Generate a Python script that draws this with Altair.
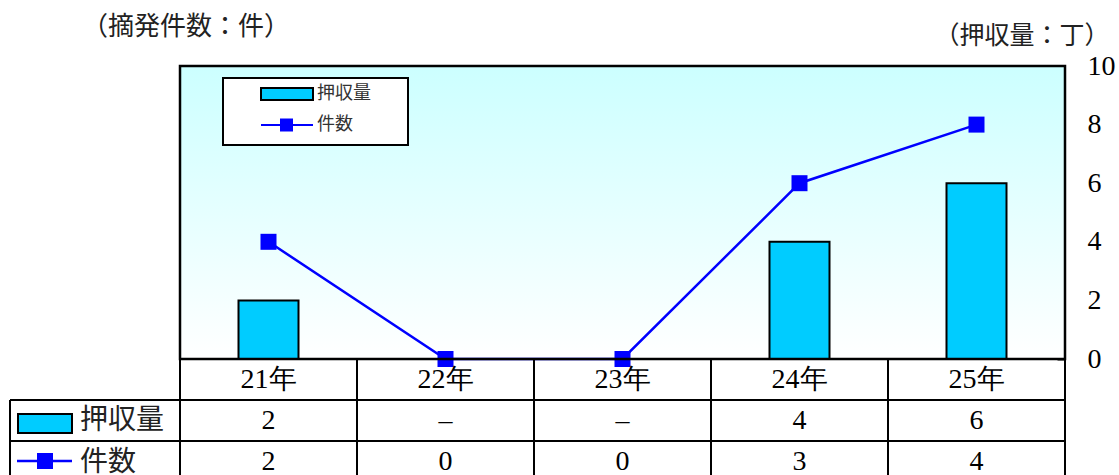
import altair as alt
import pandas as pd

# ---- data ----
categories = ["21年", "22年", "23年", "24年", "25年"]
seizures = [2, 0, 0, 4, 6]      # 押収量（丁） – right axis, bars
cases = [2, 0, 0, 3, 4]         # 摘発件数（件） – left axis, line
left_ticks = [0, 2, 4]
right_ticks = [0, 2, 4, 6, 8, 10]
left_title = "（摘発件数：件）"
right_title = "（押収量：丁）"
series_names = ["押収量", "件数"]

df = pd.DataFrame({
    "cat": categories,
    "seizure": seizures,
    "cases": cases,
    "seizure_label": [str(v) if v else "–" for v in seizures],
    "cases_label": [str(v) for v in cases],
})

SERIF = "serif"
SANS = "Noto Sans CJK JP"
BAR = "#00ccff"
LINE = "#0000ff"
W, H = 885, 293

xscale = alt.Scale(type="band", paddingInner=0, paddingOuter=0)


def xenc(**kw):
    return alt.X("cat:N", sort=categories, scale=xscale, axis=None, **kw)


base = alt.Chart(df)
one = alt.Chart(pd.DataFrame({"k": [0]}))

# background gradient
bg = one.mark_rect(
    fill=alt.LinearGradient(
        gradient="linear",
        stops=[alt.GradientStop(color="#ccffff", offset=0),
               alt.GradientStop(color="#ffffff", offset=1)],
        x1=0, x2=0, y1=0, y2=1,
    )
).encode(x=alt.value(0), x2=alt.value(W), y=alt.value(0), y2=alt.value(H))

bars = base.mark_bar(width=60, color=BAR, stroke="black", strokeWidth=2).encode(
    x=xenc(),
    y=alt.Y(
        "seizure:Q",
        scale=alt.Scale(domain=[0, 10], nice=False),
        axis=alt.Axis(
            orient="right", values=right_ticks, title=None, domain=False, grid=False,
            tickSize=8, tickWidth=2, tickColor="black", offset=-8, labelPadding=22,
            labelFont=SERIF, labelFontSize=28, labelColor="black",
            labelAlign="left", labelBaseline="middle", labelOverlap=False,
        ),
    ),
)

yleft = alt.Scale(domain=[0, 5], nice=False)
line = base.mark_line(color=LINE, strokeWidth=2.5).encode(
    x=xenc(),
    y=alt.Y(
        "cases:Q",
        scale=yleft,
        axis=alt.Axis(
            orient="left", values=left_ticks, title=None, domain=False, grid=False,
            tickSize=8, tickWidth=2, tickColor="black", offset=-8, labelPadding=22,
            labelFont=SERIF, labelFontSize=28, labelColor="black",
            labelAlign="right", labelBaseline="middle", labelOverlap=False,
        ),
    ),
)
pts = base.mark_point(shape="square", size=256, filled=True, color=LINE, opacity=1).encode(
    x=xenc(), y=alt.Y("cases:Q", scale=yleft, axis=None)
)
series = alt.layer(line, pts)

# plot frame
frame = one.mark_rect(fillOpacity=0, stroke="black", strokeWidth=2.5).encode(
    x=alt.value(0), x2=alt.value(W), y=alt.value(0), y2=alt.value(H)
)

# ---- inner legend ----
leg_box = one.mark_rect(fill="white", stroke="black", strokeWidth=2).encode(
    x=alt.value(43), x2=alt.value(228), y=alt.value(12), y2=alt.value(79)
)
leg_bar = one.mark_rect(fill=BAR, stroke="black", strokeWidth=2).encode(
    x=alt.value(81), x2=alt.value(133), y=alt.value(22), y2=alt.value(34)
)
leg_line = one.mark_rule(color=LINE, strokeWidth=2).encode(
    x=alt.value(81), x2=alt.value(133), y=alt.value(59)
)
leg_pt = one.mark_point(shape="square", size=169, filled=True, color=LINE, opacity=1).encode(
    x=alt.value(106.5), y=alt.value(59)
)
leg_t1 = one.mark_text(font=SANS, fontSize=18, color="#333333", align="left", baseline="middle").encode(
    x=alt.value(137), y=alt.value(28), text=alt.value(series_names[0])
)
leg_t2 = one.mark_text(font=SANS, fontSize=18, color="#333333", align="left", baseline="middle").encode(
    x=alt.value(137), y=alt.value(59), text=alt.value(series_names[1])
)

# ---- axis titles ----
t_left = one.mark_text(font=SANS, fontSize=26, color="#222222", align="center", baseline="middle").encode(
    x=alt.value(6), y=alt.value(-39), text=alt.value(left_title)
)
t_right = one.mark_text(font=SANS, fontSize=25, color="#222222", align="center", baseline="middle").encode(
    x=alt.value(842), y=alt.value(-30), text=alt.value(right_title)
)

# ---- data table ----
cat_text = base.mark_text(font=SERIF, fontSize=28, color="black", baseline="middle").encode(
    x=xenc(), y=alt.value(314), text="cat:N"
)
row1_text = base.mark_text(font=SERIF, fontSize=28, color="black", baseline="middle").encode(
    x=xenc(), y=alt.value(355), text="seizure_label:N"
)
row2_text = base.mark_text(font=SERIF, fontSize=28, color="black", baseline="middle").encode(
    x=xenc(), y=alt.value(396), text="cases_label:N"
)
vsep = base.mark_rule(color="black", strokeWidth=2).encode(
    x=xenc(bandPosition=0), y=alt.value(H), y2=alt.value(430)
)
vsep_last = base.transform_filter(alt.datum.cat == categories[-1]).mark_rule(
    color="black", strokeWidth=2
).encode(x=xenc(bandPosition=1), y=alt.value(H), y2=alt.value(430))
vleft = one.mark_rule(color="black", strokeWidth=2).encode(
    x=alt.value(-170), y=alt.value(334), y2=alt.value(430)
)
h1 = one.mark_rule(color="black", strokeWidth=2).encode(
    x=alt.value(-170), x2=alt.value(W), y=alt.value(334)
)
h2 = one.mark_rule(color="black", strokeWidth=2).encode(
    x=alt.value(-170), x2=alt.value(W), y=alt.value(375)
)
tb_bar = one.mark_rect(fill=BAR, stroke="black", strokeWidth=2).encode(
    x=alt.value(-162), x2=alt.value(-108), y=alt.value(348), y2=alt.value(367)
)
tb_line = one.mark_rule(color=LINE, strokeWidth=2.5).encode(
    x=alt.value(-163), x2=alt.value(-108), y=alt.value(395)
)
tb_pt = one.mark_point(shape="square", size=256, filled=True, color=LINE, opacity=1).encode(
    x=alt.value(-135), y=alt.value(395)
)
tb_t1 = one.mark_text(font=SANS, fontSize=28, color="#222222", align="left", baseline="middle").encode(
    x=alt.value(-100), y=alt.value(355), text=alt.value(series_names[0])
)
tb_t2 = one.mark_text(font=SANS, fontSize=28, color="#222222", align="left", baseline="middle").encode(
    x=alt.value(-100), y=alt.value(397), text=alt.value(series_names[1])
)

chart = alt.layer(
    bg, bars, series, frame,
    leg_box, leg_bar, leg_line, leg_pt, leg_t1, leg_t2,
    t_left, t_right,
    cat_text, row1_text, row2_text, vsep, vsep_last, vleft, h1, h2,
    tb_bar, tb_line, tb_pt, tb_t1, tb_t2,
).resolve_scale(y="independent").properties(
    width=W, height=H,
    padding={"left": 180, "top": 66, "right": 54, "bottom": 116},
    autosize=alt.AutoSizeParams(type="none"),
).configure_view(strokeWidth=0)

chart.save("out.html", embed_options={"renderer": "svg", "actions": False})
